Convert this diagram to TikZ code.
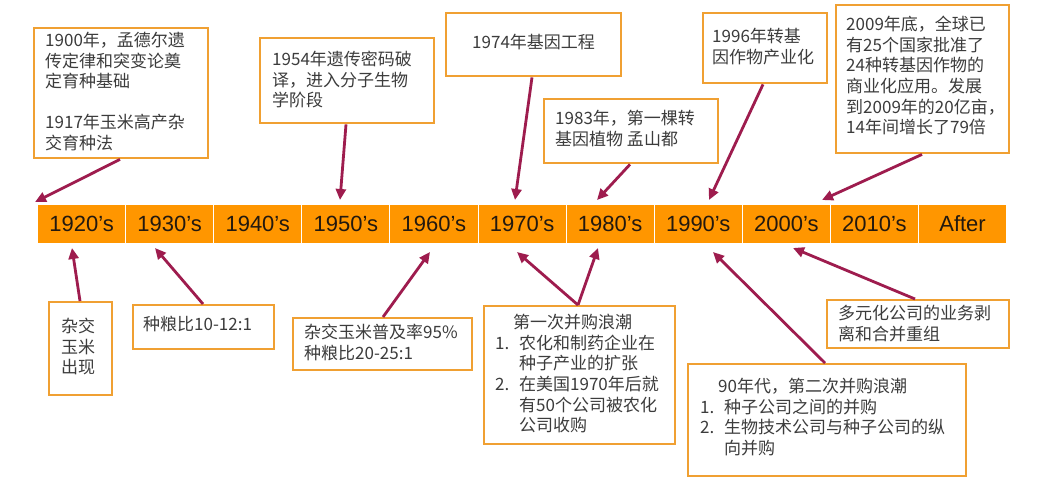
\documentclass[tikz,border=0pt]{standalone}
\usepackage{fontspec}
\setmainfont{Liberation Sans}
\newfontfamily\cjk{Noto Sans CJK SC}
\usetikzlibrary{arrows.meta,calc}
\definecolor{barorange}{RGB}{255,150,0}
\definecolor{boxorange}{RGB}{240,160,50}
\definecolor{arrowred}{RGB}{158,28,78}
\definecolor{txtgray}{RGB}{60,60,60}
\definecolor{bartxt}{RGB}{35,25,15}
\begin{document}
\begin{tikzpicture}[x=1pt,y=-1pt,
  cell/.style={draw=white, line width=1pt, fill=barorange, minimum width=88.1pt, minimum height=39pt, anchor=north west, inner sep=0pt, font=\fontsize{22}{26}\selectfont, text=bartxt},
  box/.style={draw=boxorange, line width=2.4pt, fill=white, anchor=north west, inner sep=0pt},
  txt/.style={anchor=north west, inner sep=0pt, align=left, font=\cjk\fontsize{17}{20.6}\selectfont, text=txtgray},
  conn/.style={draw=arrowred, line width=2.8pt, -{Triangle[length=11pt,width=10pt]}}]
\fill[white] (0,0) rectangle (1038,485);
\useasboundingbox (0,0) rectangle (1038,485);
% timeline bar
\foreach \lab [count=\i] in {1920’s,1930’s,1940’s,1950’s,1960’s,1970’s,1980’s,1990’s,2000’s,2010’s,After}
  \node[cell] (c\i) at ({37+(\i-1)*88.1},204) {\lab};
% boxes above
\node[box, minimum width=174pt, minimum height=130pt] (b1) at (33,27) {};
\node[box, minimum width=174pt, minimum height=85pt] (b2) at (259,37) {};
\node[box, minimum width=175pt, minimum height=63pt] (b3) at (445,12) {};
\node[box, minimum width=174pt, minimum height=64pt] (b4) at (543,98) {};
\node[box, minimum width=124pt, minimum height=70pt] (b5) at (702,12) {};
\node[box, minimum width=173pt, minimum height=148pt] (b6) at (835,4) {};
% boxes below
\node[box, minimum width=63pt, minimum height=93pt] (b7) at (48,301) {};
\node[box, minimum width=141pt, minimum height=44pt] (b8) at (132,304) {};
\node[box, minimum width=179pt, minimum height=52pt] (b9) at (292,317) {};
\node[box, minimum width=191pt, minimum height=138pt] (b10) at (483,305) {};
\node[box, minimum width=278pt, minimum height=112pt] (b11) at (687,363) {};
\node[box, minimum width=182pt, minimum height=48pt] (b12) at (826,299) {};
% texts
\node[txt] (t1) at (45,32) {1900年，孟德尔遗\\传定律和突变论奠\\定育种基础\\[20.6pt]1917年玉米高产杂\\交育种法};
\node[txt] (t2) at (272,51) {1954年遗传密码破\\译，进入分子生物\\学阶段};
\node[txt] (t3) at (472,34) {1974年基因工程};
\node[txt] (t4) at (555,110) {1983年，第一棵转\\基因植物 孟山都};
\node[txt] (t5) at (712,28) {1996年转基\\因作物产业化};
\node[txt] (t6) at (846,16) {2009年底，全球已\\有25个国家批准了\\24种转基因作物的\\商业化应用。发展\\到2009年的20亿亩，\\14年间增长了79倍};
\node[txt] (t7) at (61,318) {杂交\\玉米\\出现};
\node[txt] (t8) at (143,316) {种粮比10-12:1};
\node[txt] (t9) at (304,324) {杂交玉米普及率95\%\\种粮比20-25:1};
\node[txt] (t10) at (495,314) {\hspace*{18pt}第一次并购浪潮\\\makebox[24pt][l]{1.}农化和制药企业在\\\hspace*{24pt}种子产业的扩张\\\makebox[24pt][l]{2.}在美国1970年后就\\\hspace*{24pt}有50个公司被农化\\\hspace*{24pt}公司收购};
\node[txt] (t11) at (700,378) {\hspace*{18pt}90年代，第二次并购浪潮\\\makebox[24pt][l]{1.}种子公司之间的并购\\\makebox[24pt][l]{2.}生物技术公司与种子公司的纵\\\hspace*{24pt}向并购};
\node[txt] (t12) at (838,305) {多元化公司的业务剥\\离和合并重组};
% arrow tips
\coordinate (tA1) at (35,202);
\coordinate (tA2) at (340,200);
\coordinate (tA3) at (515,200);
\coordinate (tA4) at (597,200);
\coordinate (tA5) at (709,200);
\coordinate (tA6) at (822,200);
\coordinate (tB7) at (72,248);
\coordinate (tB8) at (155,248);
\coordinate (tB9) at (430,252);
\coordinate (tB10a) at (517,252);
\coordinate (tB10b) at (598,248);
\coordinate (tB11) at (713,252);
\coordinate (tB12) at (793,248);
% connectors
\draw[conn] ($(b1.south west)+(87,0)$) -- (tA1);
\draw[conn] ($(b2.south west)+(87,0)$) -- (tA2);
\draw[conn] ($(b3.south west)+(87,0)$) -- (tA3);
\draw[conn] ($(b4.south west)+(87,0)$) -- (tA4);
\draw[conn] ($(b5.south west)+(61,0)$) -- (tA5);
\draw[conn] ($(b6.south west)+(87,0)$) -- (tA6);
\draw[conn] ($(b7.north west)+(32,0)$) -- (tB7);
\draw[conn] ($(b8.north west)+(71,0)$) -- (tB8);
\draw[conn] ($(b9.north west)+(91,0)$) -- (tB9);
\draw[conn] ($(b10.north west)+(95,0)$) -- (tB10a);
\draw[conn] ($(b10.north west)+(95,0)$) -- (tB10b);
\draw[conn] ($(b11.north west)+(138,0)$) -- (tB11);
\draw[conn] ($(b12.north west)+(89,0)$) -- (tB12);
\end{tikzpicture}
\end{document}
